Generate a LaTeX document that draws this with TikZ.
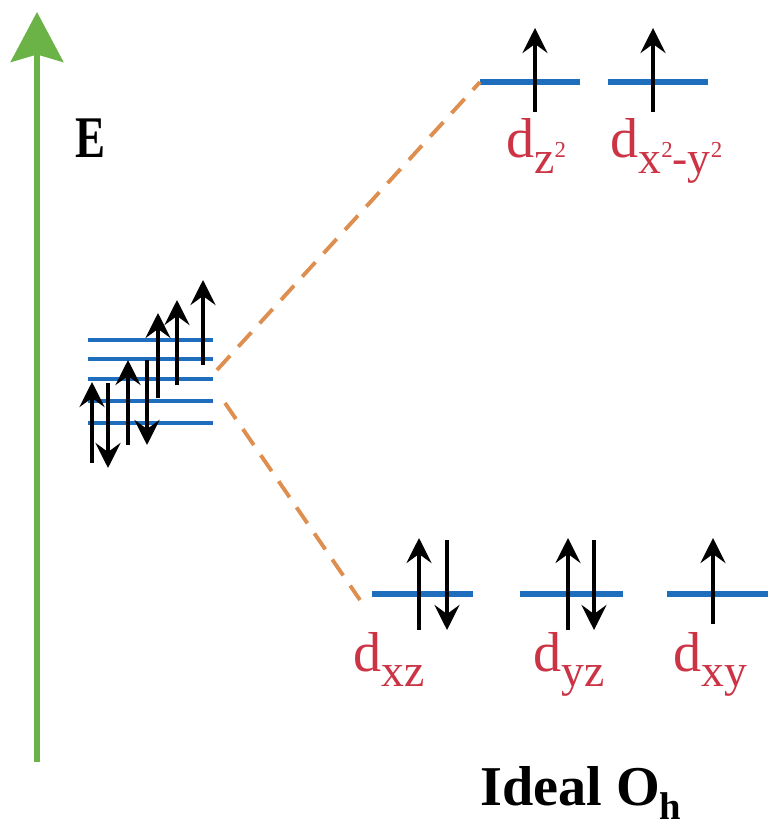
\documentclass[tikz,border=0pt]{standalone}
\usepackage{fontspec}
\setmainfont{Liberation Serif}
\usetikzlibrary{arrows.meta}
\definecolor{energygreen}{rgb}{0.42,0.70,0.28}
\definecolor{levelblue}{rgb}{0.12,0.43,0.74}
\definecolor{splitorange}{rgb}{0.87,0.56,0.31}
\definecolor{orbred}{rgb}{0.80,0.20,0.27}
\newcommand{\orbsub}[1]{\raisebox{-9pt}{\fontsize{26}{26}\selectfont #1}}
\newcommand{\orbsup}{\raisebox{9pt}{\fontsize{13}{13}\selectfont 2}}
\tikzset{
  level/.style={
    line width=3.4pt,
    levelblue
  },
  thinlevel/.style={
    line width=2.3pt,
    levelblue
  },
  spin/.style={
    -{Stealth[length=5mm,width=5mm,inset=1.8mm]},
    line width=2.8pt,
    black
  },
  split/.style={
    dash pattern=on 11pt off 7pt,
    line width=2.2pt,
    splitorange
  },
  orb/.style={
    anchor=base west,
    inner sep=0pt,
    text=orbred,
    font=\fontsize{32}{34}\selectfont
  },
  caption/.style={
    anchor=base west,
    inner sep=0pt,
    font=\fontsize{32}{34}\selectfont\bfseries
  }
}

\begin{document}
\begin{tikzpicture}[x=0.02cm,y=-0.02cm]
\useasboundingbox[fill=white] (0,0) rectangle (777,837);
% energy axis
\draw[line width=3.4pt,energygreen,-{Stealth[length=1cm,width=1.05cm,inset=1.5mm]}] (37,762) -- (37,12);
\node[caption] (E) at (75,158) {\scalebox{0.8}[1.05]{E}};
% degenerate free-ion d levels
\foreach \y in {340,359,379,401,423}
  \draw[thinlevel] (88,\y) -- (213,\y);
\coordinate (free up) at (217,370);
\coordinate (free down) at (225,403);
\draw[spin] (92,463) -- (92,382);
\draw[spin] (108,383) -- (108,468);
\draw[spin] (128,445) -- (128,360);
\draw[spin] (147,360) -- (147,445);
\draw[spin] (158,398) -- (158,313);
\draw[spin] (177,385) -- (177,300);
\draw[spin] (203,365) -- (203,280);
% e_g set
\coordinate (dz2 w) at (480,82);
\coordinate (dz2 e) at (580,82);
\coordinate (dx2y2 w) at (608,82);
\coordinate (dx2y2 e) at (708,82);
\draw[level] (dz2 w) -- (dz2 e);
\draw[level] (dx2y2 w) -- (dx2y2 e);
\draw[spin] (535,112) -- (535,28);
\draw[spin] (653,112) -- (653,28);
\node[orb] (dz2) at (506,158) {d\orbsub{z\orbsup}};
\node[orb] (dx2y2) at (610,158) {d\orbsub{x\orbsup-y\orbsup}};
% t_2g set
\coordinate (dxz w) at (372,594);
\coordinate (dxz e) at (473,594);
\coordinate (dyz w) at (520,594);
\coordinate (dyz e) at (623,594);
\coordinate (dxy w) at (667,594);
\coordinate (dxy e) at (768,594);
\coordinate (dxz end) at (360,600);
\draw[level] (dxz w) -- (dxz e);
\draw[level] (dyz w) -- (dyz e);
\draw[level] (dxy w) -- (dxy e);
\draw[spin] (419,630) -- (419,538);
\draw[spin] (447,540) -- (447,630);
\draw[spin] (568,630) -- (568,538);
\draw[spin] (594,540) -- (594,630);
\draw[spin] (713,624) -- (713,538);
\node[orb] (dxz) at (353,671) {d\orbsub{xz}};
\node[orb] (dyz) at (533,671) {d\orbsub{yz}};
\node[orb] (dxy) at (673,671) {d\orbsub{xy}};
% splitting
\draw[split] (free up) -- (dz2 w);
\draw[split] (free down) -- (dxz end);
\node[caption] (oh) at (480,805) {Ideal O\raisebox{-8pt}{\fontsize{22}{22}\selectfont h}};
\end{tikzpicture}
\end{document}
